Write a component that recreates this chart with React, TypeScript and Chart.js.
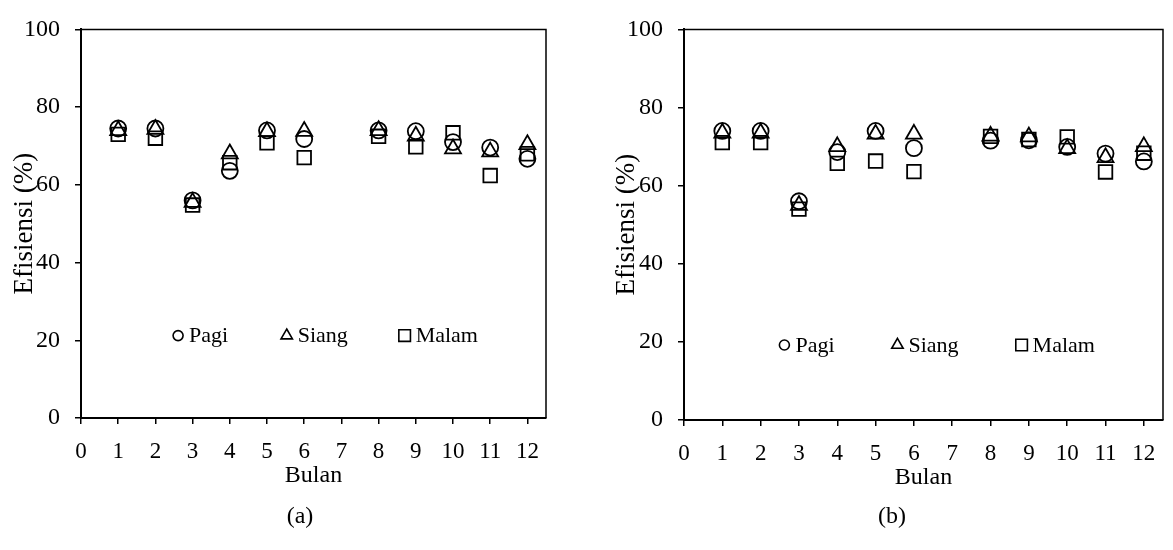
import React, { useEffect, useRef } from 'react';
import { Chart, registerables } from 'chart.js';

Chart.register(...registerables);

const FONT = '"Liberation Serif", "Times New Roman", serif';

// ---- data ----
const months = [1, 2, 3, 4, 5, 6, 8, 9, 10, 11, 12];
const seriesNames = ['Pagi', 'Siang', 'Malam'];

const pagiA = [74.5, 74.5, 56, 63.6, 74, 71.8, 74, 73.8, 71, 69.6, 66.7];
const siangA = [74, 74.3, 55.5, 68, 73.7, 73.8, 74, 72.6, 69.3, 68.5, 70.4];
const malamA = [73, 72, 54.8, 65.7, 70.8, 67, 72.5, 69.8, 73.4, 62.4, 68];

const pagiB = [74, 74, 56, 68.6, 74, 69.6, 71.5, 71.6, 69.9, 68.2, 66.2];
const siangB = [73.5, 73.5, 55, 70, 73.2, 73.2, 72.7, 72.5, 69.5, 67.2, 70];
const malamB = [71, 71, 54, 65.7, 66.3, 63.6, 72.6, 71.8, 72.5, 63.5, 68.3];

const xTicks = [0, 1, 2, 3, 4, 5, 6, 7, 8, 9, 10, 11, 12];
const yTicks = [0, 20, 40, 60, 80, 100];

const xTitle = 'Bulan';
const yTitle = 'Efisiensi (%)';

// ---- styling ----
const styles = [
  { pointStyle: 'circle', radius: 8 },
  { pointStyle: 'triangle', radius: 9.2 },
  { pointStyle: 'rect', radius: 9.6 },
];

const framePlugin = {
  id: 'frameLegend',
  afterDraw(chart: any, _args: any, opts: any) {
    const { ctx, chartArea: a, scales } = chart;
    ctx.save();
    ctx.strokeStyle = '#000';
    ctx.lineWidth = 1.5;
    ctx.beginPath();
    ctx.moveTo(a.left, a.top);
    ctx.lineTo(a.right, a.top);
    ctx.lineTo(a.right, a.bottom);
    ctx.stroke();

    const items = opts.items || [];
    const y = scales.y.getPixelForValue(opts.y);
    ctx.font = '22px ' + FONT;
    ctx.fillStyle = '#000';
    ctx.textBaseline = 'middle';
    ctx.textAlign = 'left';
    ctx.lineWidth = 1.6;
    items.forEach((it: any, i: number) => {
      const x = scales.x.getPixelForValue(it.x);
      const st = styles[i].pointStyle;
      ctx.beginPath();
      if (st === 'circle') {
        ctx.arc(x, y, 5, 0, Math.PI * 2);
      } else if (st === 'triangle') {
        const r = 6.6;
        ctx.moveTo(x, y - r);
        ctx.lineTo(x + r * 0.866, y + r / 2);
        ctx.lineTo(x - r * 0.866, y + r / 2);
        ctx.closePath();
      } else {
        ctx.rect(x - 5.8, y - 5.8, 11.6, 11.6);
      }
      ctx.stroke();
      ctx.fillText(seriesNames[i], x + 11, y + 1);
    });
    ctx.restore();
  },
};

function makeConfig(values: number[][], lay: any) {
  return {
    type: 'scatter' as const,
    data: {
      datasets: values.map((vals, i) => ({
        label: seriesNames[i],
        data: months.map((m, j) => ({ x: m, y: vals[j] })),
        pointStyle: styles[i].pointStyle,
        pointRadius: styles[i].radius,
        pointHoverRadius: styles[i].radius,
        borderColor: '#000',
        backgroundColor: 'rgba(0,0,0,0)',
        pointBorderWidth: 1.8,
        borderWidth: 1.8,
        showLine: false,
        clip: false,
      })),
    },
    options: {
      responsive: false,
      animation: false,
      events: [],
      layout: {
        autoPadding: false,
        padding: { left: 0, top: lay.top, right: lay.right, bottom: lay.bottom },
      },
      plugins: {
        legend: { display: false },
        tooltip: { enabled: false },
        frameLegend: { y: lay.legendY, items: lay.legendX.map((x: number) => ({ x })) },
      },
      scales: {
        x: {
          type: 'linear',
          min: 0,
          max: 12.5,
          afterBuildTicks: (s: any) => { s.ticks = xTicks.map((v) => ({ value: v })); },
          afterFit: (s: any) => { s.height = 72; },
          grid: { drawOnChartArea: false, drawTicks: true, tickLength: 6, color: '#000', lineWidth: 1.5 },
          border: { display: true, color: '#000', width: 2 },
          ticks: { color: '#000', font: { size: 23, family: FONT }, padding: 14, maxRotation: 0, autoSkip: false },
          title: { display: true, text: xTitle, color: '#000', font: { size: 24, family: FONT }, padding: { top: 0, bottom: 0 } },
        },
        y: {
          type: 'linear',
          min: 0,
          max: 100,
          afterBuildTicks: (s: any) => { s.ticks = yTicks.map((v) => ({ value: v })); },
          afterFit: (s: any) => { s.width = lay.yWidth; },
          grid: { drawOnChartArea: false, drawTicks: true, tickLength: 6, color: '#000', lineWidth: 1.5 },
          border: { display: true, color: '#000', width: 2 },
          ticks: { color: '#000', font: { size: 24, family: FONT }, padding: 15 },
          title: { display: true, text: yTitle, color: '#000', font: { size: 27, family: FONT }, padding: { top: lay.titlePad, bottom: 0 } },
        },
      },
    },
    plugins: [framePlugin],
  };
}

export default function App() {
  const ref1 = useRef<HTMLCanvasElement>(null);
  const ref2 = useRef<HTMLCanvasElement>(null);

  useEffect(() => {
    Chart.defaults.font.family = FONT;
    Chart.defaults.color = '#000';
    const c1 = new Chart(
      ref1.current as HTMLCanvasElement,
      makeConfig([pagiA, siangA, malamA], {
        top: 18, right: 44, bottom: 60, yWidth: 81, titlePad: 9,
        legendY: 21.2, legendX: [2.61, 5.53, 8.7],
      }) as any
    );
    const c2 = new Chart(
      ref2.current as HTMLCanvasElement,
      makeConfig([pagiB, siangB, malamB], {
        top: 24, right: 10, bottom: 58, yWidth: 94, titlePad: 21,
        legendY: 19.2, legendX: [2.62, 5.57, 8.81],
      }) as any
    );
    return () => {
      c1.destroy();
      c2.destroy();
    };
  }, []);

  const capStyle: React.CSSProperties = {
    position: 'absolute',
    top: 501,
    width: 200,
    textAlign: 'center',
    font: '24px ' + FONT,
    lineHeight: '28px',
    color: '#000',
  };

  return (
    <div style={{ position: 'absolute', left: 0, top: 0, width: 1173, height: 550, background: '#fff', overflow: 'hidden' }}>
      <canvas ref={ref1} width={590} height={550} style={{ position: 'absolute', left: 0, top: 0 }} />
      <canvas ref={ref2} width={583} height={550} style={{ position: 'absolute', left: 590, top: 0 }} />
      <div style={{ ...capStyle, left: 300 - 100 }}>(a)</div>
      <div style={{ ...capStyle, left: 892 - 100 }}>(b)</div>
    </div>
  );
}
